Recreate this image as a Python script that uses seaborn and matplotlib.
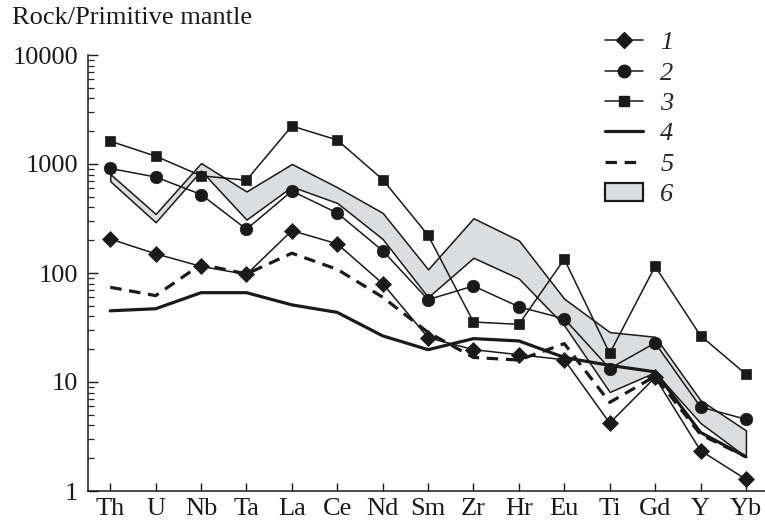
import numpy as np
import pandas as pd
import matplotlib
matplotlib.use("Agg")
import matplotlib.pyplot as plt
from matplotlib.lines import Line2D
from matplotlib.patches import Patch
from matplotlib.ticker import FixedLocator, FixedFormatter, LogLocator, NullFormatter
import seaborn as sns

# Primitive-mantle normalised trace element spectra
elements = ["Th", "U", "Nb", "Ta", "La", "Ce", "Nd", "Sm", "Zr", "Hr", "Eu", "Ti", "Gd", "Y", "Yb"]
series_1 = [205, 150, 115, 97, 245, 185, 80, 25.5, 19.8, 17.8, 16.0, 4.2, 11.0, 2.35, 1.28]
series_2 = [910, 760, 525, 252, 565, 355, 160, 57, 76, 49, 38, 13.3, 22.8, 5.9, 4.55]
series_3 = [1620, 1180, 780, 710, 2230, 1660, 720, 222, 35.5, 33.8, 134, 18.3, 115, 26.6, 11.8]
series_4 = [45, 47, 66, 66, 51, 43.5, 26.5, 19.8, 25.0, 23.8, 16.8, 14.2, 12.4, 3.45, 2.06]
series_5 = [74, 62, 120, 98, 152, 108, 60, 28.5, 16.8, 15.9, 22.5, 6.5, 11.3, 3.3, 2.06]
field_upper = [810, 348, 1020, 560, 1000, 612, 356, 108, 318, 199, 58, 28.7, 26.0, 6.8, 3.6]
field_lower = [695, 292, 870, 309, 620, 439, 205, 60, 138, 89, 33, 8.1, 12.3, 4.2, 2.06]
legend_labels = ["1", "2", "3", "4", "5", "6"]
y_ticks = [1, 10, 100, 1000, 10000]
y_tick_labels = ["1", "10", "100", "1000", "10000"]

sns.set_theme(style="ticks")
plt.rcParams["font.family"] = ["Liberation Serif", "DejaVu Serif"]
plt.rcParams["axes.linewidth"] = 1.1

ink = "#1a1a1a"
fill = "#dcdddf"

fig = plt.figure(figsize=(7.65, 5.27), dpi=100)
ax = fig.add_axes([88 / 765, 36 / 527, 1 - 88 / 765, (491 - 55) / 527])

pos = np.arange(len(elements))
df = pd.DataFrame({
    "pos": pos,
    "s1": series_1, "s2": series_2, "s3": series_3,
    "s4": series_4, "s5": series_5,
})

# shaded compositional field
ax.fill_between(pos, field_lower, field_upper, facecolor=fill,
                edgecolor=ink, linewidth=1.1, zorder=1)

sns.lineplot(data=df, x="pos", y="s4", ax=ax, color=ink, linewidth=2.3,
             errorbar=None, zorder=2)
sns.lineplot(data=df, x="pos", y="s5", ax=ax, color=ink, linewidth=2.3,
             linestyle=(0, (3.6, 2.4)), errorbar=None, zorder=2)
sns.lineplot(data=df, x="pos", y="s1", ax=ax, color=ink, linewidth=1.1,
             marker="D", markersize=8.0, markerfacecolor=ink,
             markeredgecolor=ink, markeredgewidth=0.5, errorbar=None, zorder=3)
sns.lineplot(data=df, x="pos", y="s2", ax=ax, color=ink, linewidth=1.1,
             marker="o", markersize=9.0, markerfacecolor=ink,
             markeredgecolor=ink, markeredgewidth=0.5, errorbar=None, zorder=3)
sns.lineplot(data=df, x="pos", y="s3", ax=ax, color=ink, linewidth=1.1,
             marker="s", markersize=7.7, markerfacecolor=ink,
             markeredgecolor=ink, markeredgewidth=0.5, errorbar=None, zorder=3)

ax.set_yscale("log")
ax.set_ylim(1, 10000)
ax.set_xlim(-0.49, 14.42)

ax.yaxis.set_major_locator(FixedLocator(y_ticks))
ax.yaxis.set_major_formatter(FixedFormatter(y_tick_labels))
ax.yaxis.set_minor_locator(LogLocator(base=10, subs=np.arange(2, 10)))
ax.yaxis.set_minor_formatter(NullFormatter())
ax.set_xticks(pos)
ax.set_xticklabels(elements)

ax.tick_params(axis="y", which="major", direction="in", length=7, width=1.0,
               labelsize=19, pad=7, colors=ink)
ax.tick_params(axis="y", which="minor", direction="in", length=4.5, width=0.9)
ax.tick_params(axis="x", which="major", direction="in", length=5.5, width=1.0,
               labelsize=19, pad=5, colors=ink)
ax.tick_params(axis="x", which="minor", bottom=False)

for side in ("top", "right"):
    ax.spines[side].set_visible(False)
for side in ("left", "bottom"):
    ax.spines[side].set_color(ink)

ax.set_xlabel("")
ax.set_ylabel("")
ax.set_facecolor("white")

fig.text(12 / 765, 1 - 18 / 527, "Rock/Primitive mantle", ha="left",
         va="center", fontsize=19, color=ink)

handles = [
    Line2D([], [], color=ink, lw=1.1, marker="D", ms=8.0, mfc=ink, mec=ink),
    Line2D([], [], color=ink, lw=1.1, marker="o", ms=9.0, mfc=ink, mec=ink),
    Line2D([], [], color=ink, lw=1.1, marker="s", ms=7.7, mfc=ink, mec=ink),
    Line2D([], [], color=ink, lw=2.3),
    Line2D([], [], color=ink, lw=2.3, linestyle=(0, (3.6, 2.4))),
    Patch(facecolor=fill, edgecolor=ink, linewidth=1.6),
]
ax.legend(handles, legend_labels, loc="upper left",
          bbox_to_anchor=(605 / 765, 1 - 31 / 527), bbox_transform=fig.transFigure,
          frameon=False, borderpad=0, borderaxespad=0, handlelength=1.45,
          handletextpad=0.65, labelspacing=0.26,
          prop={"family": "Liberation Serif", "style": "italic", "size": 19})

fig.savefig("out.png", dpi=100, facecolor="white")
